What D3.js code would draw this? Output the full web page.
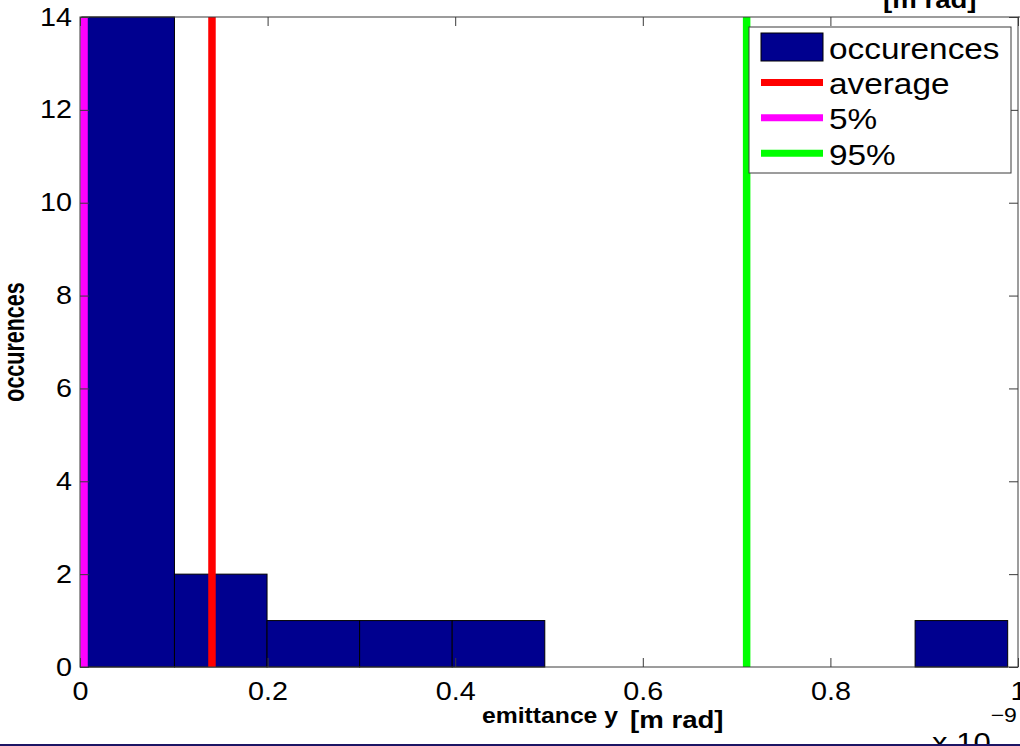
<!DOCTYPE html>
<html>
<head>
<meta charset="utf-8">
<script src="https://cdn.jsdelivr.net/npm/d3@7"></script>
<style>
  html, body { margin: 0; padding: 0; background: #fff; overflow: hidden; }
  svg { display: block; font-family: "Liberation Sans", Arial, Helvetica, sans-serif; }
</style>
</head>
<body>
<div id="chart"></div>
<script>
// Histogram of emittance y (x axis in units of 1e-9 m rad)
var binEdges = [0.0020, 0.1007, 0.1994, 0.2981, 0.3968, 0.4955, 0.5942, 0.6929, 0.7916, 0.8903, 0.9890];
var binCounts = [14, 2, 1, 1, 1, 0, 0, 0, 0, 1];

// Vertical marker lines
var markerNames = ['average', '5%', '95%'];
var markerValues = [0.1407, 0.0043, 0.7107];
var markerColors = ['#ff0000', '#ff00ff', '#00ff00'];

var xTicks = [0, 0.2, 0.4, 0.6, 0.8, 1];
var xTickLabels = ['0', '0.2', '0.4', '0.6', '0.8', '1'];
var yTicks = [0, 2, 4, 6, 8, 10, 12, 14];

var legendLabels = ['occurences', 'average', '5%', '95%'];

(function () {
  'use strict';

  var W = 1020, H = 746;
  var left = 80, right = 1018, top = 17, bottom = 667;
  var barColor = '#00008f';
  var axisColor = '#3a3a3a';
  var stretch = 'scale(1.15,1)';

  var svg = d3.select('#chart').append('svg')
    .attr('width', W).attr('height', H)
    .attr('viewBox', [0, 0, W, H]);

  var x = d3.scaleLinear().domain([0, 1]).range([left, right]);
  var y = d3.scaleLinear().domain([0, 14]).range([bottom, top]);

  var bins = binCounts.map(function (c, i) {
    return { x0: binEdges[i], x1: binEdges[i + 1], n: c };
  });

  // Bars
  svg.append('g')
    .selectAll('rect')
    .data(bins.filter(function (d) { return d.n > 0; }))
    .join('rect')
    .attr('x', function (d) { return x(d.x0); })
    .attr('y', function (d) { return y(d.n); })
    .attr('width', function (d) { return x(d.x1) - x(d.x0); })
    .attr('height', function (d) { return y(0) - y(d.n); })
    .attr('fill', barColor)
    .attr('stroke', '#000')
    .attr('stroke-width', 1);

  // Marker lines
  svg.append('g')
    .selectAll('line')
    .data(markerValues)
    .join('line')
    .attr('x1', function (d) { return x(d); })
    .attr('x2', function (d) { return x(d); })
    .attr('y1', y(0))
    .attr('y2', y(14))
    .attr('stroke', function (d, i) { return markerColors[i]; })
    .attr('stroke-width', 7.5);

  // Axes (ticks point inward, mirrored on top/right)
  var gx = svg.append('g')
    .attr('transform', 'translate(0,' + bottom + ')')
    .call(d3.axisBottom(x).tickValues(xTicks)
      .tickFormat(function (d, i) { return xTickLabels[i]; })
      .tickSizeInner(-9).tickSizeOuter(0).tickPadding(15));
  var gy = svg.append('g')
    .attr('transform', 'translate(' + left + ',0)')
    .call(d3.axisLeft(y).tickValues(yTicks)
      .tickFormat(d3.format('d'))
      .tickSizeInner(-9).tickSizeOuter(0).tickPadding(7));
  var gx2 = svg.append('g')
    .attr('transform', 'translate(0,' + top + ')')
    .call(d3.axisTop(x).tickValues(xTicks).tickFormat('')
      .tickSizeInner(-9).tickSizeOuter(0));
  var gy2 = svg.append('g')
    .attr('transform', 'translate(' + right + ',0)')
    .call(d3.axisRight(y).tickValues(yTicks).tickFormat('')
      .tickSizeInner(-9).tickSizeOuter(0));

  [gx, gy, gx2, gy2].forEach(function (g) {
    g.select('.domain').remove();
    g.selectAll('line').attr('stroke', axisColor);
    g.selectAll('text')
      .attr('fill', '#000')
      .attr('font-size', 25)
      .attr('font-family', '"Liberation Sans", Arial, sans-serif')
      .attr('transform', stretch);
  });

  // Axes box
  svg.append('rect')
    .attr('x', left).attr('y', top)
    .attr('width', right - left).attr('height', bottom - top)
    .attr('fill', 'none')
    .attr('stroke', axisColor)
    .attr('stroke-width', 1);
  // top border continues to the window edge
  svg.append('line')
    .attr('x1', right).attr('x2', W)
    .attr('y1', top).attr('y2', top)
    .attr('stroke', axisColor);

  // Axis labels
  svg.append('text')
    .attr('transform', 'translate(482,723) ' + stretch)
    .attr('font-size', 21.5).attr('font-weight', 'bold')
    .text('emittance y');
  svg.append('text')
    .attr('transform', 'translate(630,728) ' + stretch)
    .attr('font-size', 24).attr('font-weight', 'bold')
    .text('[m rad]');

  svg.append('text')
    .attr('transform', 'translate(24,342) rotate(-90) scale(1,1.4)')
    .attr('text-anchor', 'middle')
    .attr('font-size', 21.5).attr('font-weight', 'bold')
    .text('occurences');

  // Leftover label from the neighbouring figure, cut by the top edge
  svg.append('text')
    .attr('transform', 'translate(883,8) ' + stretch)
    .attr('font-size', 24).attr('font-weight', 'bold')
    .text('[m rad]');

  // Exponent label, cut by the bottom edge
  var expo = svg.append('text')
    .attr('transform', 'translate(932,752) ' + stretch)
    .attr('font-size', 27);
  expo.append('tspan').text('x 10');
  expo.append('tspan').attr('font-size', 20).attr('dy', -30).text('\u22129');

  // Legend
  var lg = svg.append('g');
  lg.append('rect')
    .attr('x', 749).attr('y', 27)
    .attr('width', 262).attr('height', 146)
    .attr('fill', '#fff')
    .attr('stroke', axisColor)
    .attr('stroke-width', 1);

  var rowY = function (i) { return 47 + i * 35.4; };
  lg.append('rect')
    .attr('x', 761).attr('y', rowY(0) - 14)
    .attr('width', 62).attr('height', 28)
    .attr('fill', barColor)
    .attr('stroke', '#000');
  lg.selectAll('line.key')
    .data(markerColors)
    .join('line')
    .attr('class', 'key')
    .attr('x1', 761).attr('x2', 823)
    .attr('y1', function (d, i) { return rowY(i + 1); })
    .attr('y2', function (d, i) { return rowY(i + 1); })
    .attr('stroke', function (d) { return d; })
    .attr('stroke-width', 7);
  lg.selectAll('text')
    .data(legendLabels)
    .join('text')
    .attr('transform', function (d, i) {
      return 'translate(829,' + (rowY(i) + 11.5) + ') ' + stretch;
    })
    .attr('font-size', 29)
    .text(function (d) { return d; });

  // Dark rule along the bottom of the picture
  svg.append('rect')
    .attr('x', 0).attr('y', 744)
    .attr('width', W).attr('height', 2)
    .attr('fill', '#1c1464');
})();
</script>
</body>
</html>
